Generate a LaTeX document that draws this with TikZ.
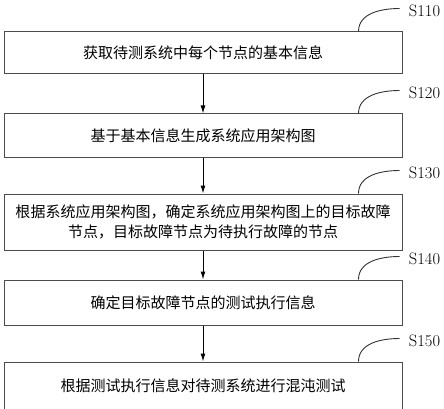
\documentclass[tikz,border=0pt]{standalone}
\usepackage{fontspec}
\newfontfamily\cjk{Noto Sans CJK SC}
\usetikzlibrary{arrows.meta,positioning,calc}

\begin{document}
\begin{tikzpicture}[x=1pt,y=1pt,>={Latex[length=8pt,width=5pt]},
 box/.style={draw=black!70,line width=1pt,text width=390pt,minimum width=398pt,align=center,
  inner sep=4pt,font=\cjk\fontsize{15}{20}\selectfont},
 lbl/.style={font=\fontsize{16.5}{18}\selectfont,inner sep=2pt},
 lead/.style={draw=black!80,line width=0.9pt}]
\useasboundingbox (0,0) rectangle (444,-409);
\node[box,minimum height=42pt](a) at (203,-53){获取待测系统中每个节点的基本信息};
\node[box,minimum height=43pt,below=39pt of a](b){基于基本信息生成系统应用架构图};
\node[box,minimum height=56pt,below=36pt of b](c){根据系统应用架构图，确定系统应用架构图上的目标故障\\
 节点，目标故障节点为待执行故障的节点};
\node[box,minimum height=45pt,below=29pt of c](d){确定目标故障节点的测试执行信息};
\node[box,minimum height=47pt,below=36pt of d](e){根据测试执行信息对待测系统进行混沌测试};
\draw[->,line width=1pt](a)--(b);\draw[->,line width=1pt](b)--(c);
\draw[->,line width=1pt](c)--(d);\draw[->,line width=1pt](d)--(e);
% step labels
\foreach \n/\s in {a/S110,b/S120,c/S130,d/S140,e/S150}{
 \node[lbl](l\n) at ($(\n.north east)+(22pt,21pt)$){\s};
 \draw[lead]([xshift=-44pt]\n.north east) to[out=90,in=180] ([xshift=-7pt,yshift=2pt]l\n.west);
}
\end{tikzpicture}
\end{document}
